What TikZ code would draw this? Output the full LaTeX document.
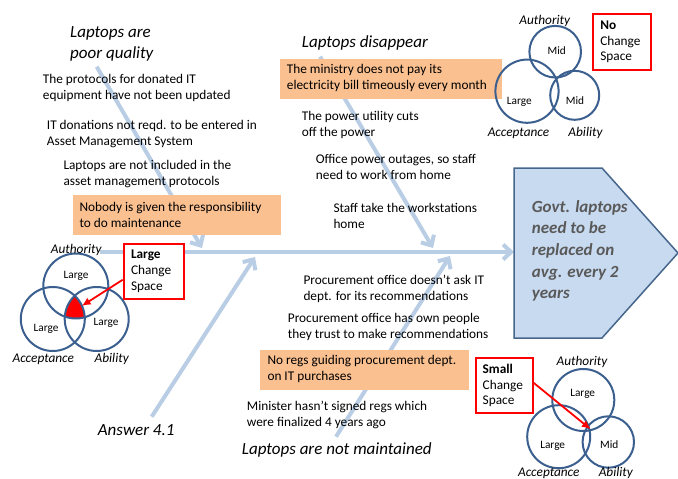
\documentclass[tikz,border=0pt]{standalone}
\usepackage{fontspec}
\setmainfont{Carlito}
\usetikzlibrary{arrows.meta}
\definecolor{bone}{RGB}{185,205,229}
\definecolor{vennc}{RGB}{59,95,143}
\definecolor{orng}{RGB}{250,192,144}
\definecolor{pfill}{RGB}{200,218,240}
\definecolor{pline}{RGB}{70,102,140}
\definecolor{ptext}{RGB}{89,89,89}
\begin{document}
\begin{tikzpicture}[x=1pt,y=-1pt,
  bonearrow/.style={draw=bone, line width=4pt, -{Straight Barb[length=8pt,width=15pt]}},
  txt/.style={anchor=base west, inner sep=0pt, align=left, font=\fontsize{13.3}{16}\selectfont},
  cause/.style={anchor=base west, inner sep=0pt, align=left, font=\fontsize{17}{20.7}\selectfont\itshape},
  obox/.style={anchor=north west, fill=orng, inner sep=0pt, minimum height=40pt},
  rbox/.style={anchor=north west, draw=red, line width=2pt, fill=white, inner ysep=0pt, align=left, minimum height=55.5pt, font=\fontsize{13.3}{15.7}\selectfont},
  vlab/.style={anchor=base, inner sep=0pt, font=\fontsize{13.3}{16}\selectfont\itshape},
  vin/.style={inner sep=0pt, font=\fontsize{11.3}{13}\selectfont},
  vcirc/.style={draw=vennc, line width=2pt},
  redarrow/.style={draw=red, line width=1.8pt, -{Latex[length=9pt,width=8pt]}}
]
\useasboundingbox (0,0) rectangle (678,479);
\fill[white] (0,0) rectangle (678,479);

% fishbone
\coordinate (spineStart) at (100,252);
\coordinate (goalW) at (514,252);
\coordinate (b1s) at (96.7,66.7);
\coordinate (b1e) at (202,248);
\coordinate (b2s) at (320,56.7);
\coordinate (b2e) at (433,248);
\coordinate (b3s) at (151.7,416.7);
\coordinate (b3e) at (255,257);
\coordinate (b4s) at (336,436.7);
\coordinate (b4e) at (450,256);
\draw[bonearrow] (spineStart) -- (goalW);
\draw[bonearrow] (b1s) -- (b1e);
\draw[bonearrow] (b2s) -- (b2e);
\draw[bonearrow] (b3s) -- (b3e);
\draw[bonearrow] (b4s) -- (b4e);

% goal pentagon
\draw[fill=pfill, draw=pline, line width=1.5pt] (514,168) -- (602,168) -- (678,253) -- (602,338) -- (514,338) -- cycle;
\node[anchor=base west, inner sep=0pt, align=left, text=ptext, font=\fontsize{17}{21.7}\selectfont\bfseries\itshape] (goal) at (531.7,298.8) {Govt. laptops\\need to be\\replaced on\\avg. every 2\\years};

% cause labels
\node[cause] (c1) at (70,58) {Laptops are\\poor quality};
\node[cause] (c2) at (301.7,47.7) {Laptops disappear};
\node[cause] (c3) at (97.7,435) {Answer 4.1};
\node[cause] (c4) at (241.7,454) {Laptops are not maintained};

% orange boxes
\node[obox, minimum width=208pt] (ob1) at (72.7,195) {};
\node[obox, minimum width=221.7pt] (ob2) at (280,58.3) {};
\node[obox, minimum width=209pt] (ob3) at (260,349.3) {};

% texts
\node[txt] (t1) at (42.7,99.3) {The protocols for donated IT\\equipment have not been updated};
\node[txt] (t2) at (46.7,145.3) {IT donations not reqd. to be entered in\\Asset Management System};
\node[txt] (t3) at (63.3,185.3) {Laptops are not included in the\\asset management protocols};
\node[txt] (ob1t) at (79.3,227.2) {Nobody is given the responsibility\\to do maintenance};
\node[txt] (ob2t) at (286.7,89.8) {The ministry does not pay its\\electricity bill timeously every month};
\node[txt] (t4) at (301.7,136.5) {The power utility cuts\\off the power};
\node[txt] (t5) at (315.7,179.7) {Office power outages, so staff\\need to work from home};
\node[txt] (t6) at (333.3,228.2) {Staff take the workstations\\home};
\node[txt] (t7) at (303.3,300.5) {Procurement office doesn’t ask IT\\dept. for its recommendations};
\node[txt] (t8) at (287.7,338.8) {Procurement office has own people\\they trust to make recommendations};
\node[txt] (ob3t) at (267.3,380.5) {No regs guiding procurement dept.\\on IT purchases};
\node[txt] (t9) at (246.7,426.5) {Minister hasn’t signed regs which\\were finalized 4 years ago};

% left venn
\begin{scope}
\clip (75.8,286) circle[radius=32.5pt];
\clip (52.8,319) circle[radius=32pt];
\fill[red] (96.7,319) circle[radius=32pt];
\end{scope}
\draw[vcirc] (75.8,286) circle[radius=32.5pt];
\draw[vcirc] (52.8,319) circle[radius=32pt];
\draw[vcirc] (96.7,319) circle[radius=32pt];
\node[vlab] (lvAuth) at (76.2,253.3) {Authority};
\node[vin] (lvL1) at (76,276) {Large};
\node[vin] (lvL2) at (46,329.3) {Large};
\node[vin] (lvL3) at (106,322.7) {Large};
\node[vlab] (lvAcc) at (43.3,362) {Acceptance};
\node[vlab] (lvAb) at (111.7,362) {Ability};
\node[rbox, inner xsep=7.3pt, text width=45.4pt] (lbox) at (122.7,242.7) {\textbf{Large}\\Change\\Space};
\coordinate (lvTip) at (81.7,306);
\draw[redarrow] (lbox.195) -- (lvTip);

% top-right venn
\draw[vcirc] (555.2,51.7) circle[radius=25.8pt];
\draw[vcirc] (527,91.2) circle[radius=31.6pt];
\draw[vcirc] (574.7,95.3) circle[radius=24.5pt];
\node[vlab] (tvAuth) at (544.7,24.3) {Authority};
\node[vin] (tvM1) at (556.7,51) {Mid};
\node[vin] (tvL) at (519.3,101.7) {Large};
\node[vin] (tvM2) at (575,100.3) {Mid};
\node[vlab] (tvAcc) at (518.5,136) {Acceptance};
\node[vlab] (tvAb) at (585.5,136) {Ability};
\node[rbox, inner xsep=7pt, text width=43.7pt] (nbox) at (592.3,13.3) {\textbf{No}\\Change\\Space};

% bottom-right venn
\draw[vcirc] (583.3,400) circle[radius=31pt];
\draw[vcirc] (558.7,436.7) circle[radius=31.5pt];
\draw[vcirc] (608.3,442) circle[radius=25.7pt];
\node[vlab] (bvAuth) at (582,365) {Authority};
\node[vin] (bvL1) at (582.7,393.7) {Large};
\node[vin] (bvL2) at (552.7,446) {Large};
\node[vin] (bvM) at (609.3,444.6) {Mid};
\node[vlab] (bvAcc) at (548.8,476.7) {Acceptance};
\node[vlab] (bvAb) at (615.8,476.7) {Ability};
\node[rbox, inner xsep=6.7pt, text width=43.3pt] (sbox) at (475,356.7) {\textbf{Small}\\Change\\Space};
\coordinate (bvTip) at (590.7,429.3);
\draw[redarrow] (sbox.5) -- (bvTip);
\end{tikzpicture}
\end{document}
